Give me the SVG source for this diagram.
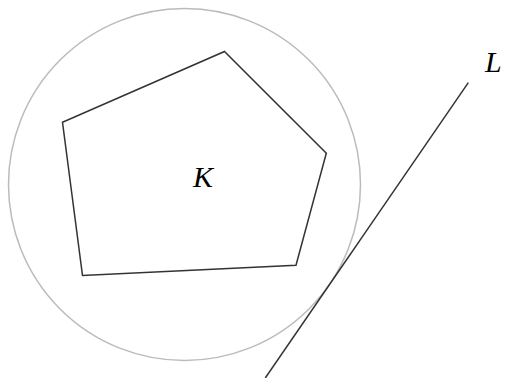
<svg xmlns="http://www.w3.org/2000/svg" width="508" height="378" viewBox="0 0 508 378">
<style>
.lbl{font-family:"Liberation Serif","DejaVu Serif",serif;font-style:italic;font-size:30px;fill:#000}
.edge{fill:none;stroke:#333;stroke-width:1.5}
</style>
<rect width="508" height="378" fill="#fff"/>
<g id="circle"><circle cx="184.5" cy="184.5" r="176" fill="none" stroke="#bbb" stroke-width="1.5"/></g>
<g id="K"><polygon class="edge" points="224.5,51.5 326.3,153.3 296,265.3 82.5,275.5 62.5,122.3" stroke-linejoin="miter"/>
<text class="lbl" x="193" y="187.3">K</text></g>
<g id="connectors"><line class="edge" x1="468.3" y1="82.7" x2="265.3" y2="378"/></g>
<g id="L"><text class="lbl" x="485" y="71.7">L</text></g>
</svg>
